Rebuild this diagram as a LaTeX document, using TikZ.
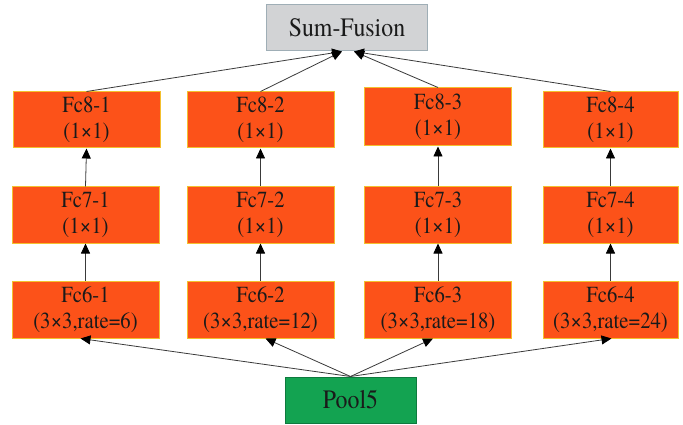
\documentclass[tikz,border=0pt]{standalone}
\usepackage{fontspec}
\newfontfamily\labelfont[FakeStretch=0.9]{texgyretermes-regular.otf}
\usetikzlibrary{arrows.meta}
\definecolor{layerfill}{HTML}{FC5219}
\definecolor{layerline}{HTML}{F3C02E}
\definecolor{sumfill}{HTML}{D2D3D5}
\definecolor{sumline}{HTML}{9FAEB6}
\definecolor{poolfill}{HTML}{13A351}
\definecolor{poolline}{HTML}{0E7A3E}
\definecolor{wire}{HTML}{3A3A3A}
\definecolor{ink}{HTML}{1A1A1A}
\tikzset{
  layer/.style={draw=layerline, fill=layerfill, line width=1pt, minimum height=56pt,
    minimum width=147pt, inner sep=0pt, align=center, text=ink,
    font=\labelfont\fontsize{23pt}{26pt}\selectfont},
  sumbox/.style={draw=sumline, fill=sumfill, line width=1pt, minimum width=161pt,
    minimum height=46pt, inner sep=0pt, text=ink,
    font=\labelfont\fontsize{26.5pt}{30pt}\selectfont},
  poolbox/.style={draw=poolline, fill=poolfill, line width=1pt, minimum width=131pt,
    minimum height=46pt, inner sep=0pt, text=ink,
    font=\labelfont\fontsize{26.5pt}{30pt}\selectfont},
  link/.style={draw=wire, line width=0.8pt,
    -{Triangle[length=10pt,width=9pt,fill=black,color=black]}}
}
\begin{document}
\begin{tikzpicture}[x=1pt,y=-1pt]
  \useasboundingbox (0,0) rectangle (683,425);
  \clip (0,0) rectangle (683,425);

  % top fusion node
  \node[sumbox] (sf) at (347,28) {Sum-Fusion};

  % Fc8 row
  \node[layer] (f81) at (86.5,120) {Fc8-1\\(1×1)};
  \node[layer] (f82) at (260.5,120) {Fc8-2\\(1×1)};
  \node[layer, minimum height=58pt] (f83) at (438,117) {Fc8-3\\(1×1)};
  \node[layer, minimum width=135pt] (f84) at (610.5,120) {Fc8-4\\(1×1)};

  % Fc7 row
  \node[layer] (f71) at (85.5,215) {Fc7-1\\(1×1)};
  \node[layer] (f72) at (260.5,215) {Fc7-2\\(1×1)};
  \node[layer] (f73) at (438,215) {Fc7-3\\(1×1)};
  \node[layer, minimum width=135pt] (f74) at (610.5,215) {Fc7-4\\(1×1)};

  % Fc6 row
  \node[layer, minimum height=57pt] (f61) at (85.5,309.5) {Fc6-1\\(3×3,rate=6)};
  \node[layer, minimum height=57pt] (f62) at (260.5,309.5) {Fc6-2\\(3×3,rate=12)};
  \node[layer, minimum height=57pt] (f63) at (438,309.5) {Fc6-3\\(3×3,rate=18)};
  \node[layer, minimum height=57pt, minimum width=135pt] (f64) at (610.5,309.5) {Fc6-4\\(3×3,rate=24)};

  % input node
  \node[poolbox] (p5) at (350.5,400) {Pool5};

  % Pool5 feeds every Fc6 branch
  \draw[link] (p5.north) -- ([xshift=-5pt]f61.south);
  \draw[link] (p5.north) -- ([xshift=5pt]f62.south);
  \draw[link] (p5.north) -- ([xshift=-5pt]f63.south);
  \draw[link] (p5.north) -- ([xshift=1pt]f64.south);

  % vertical chains
  \foreach \i in {1,2,3,4}{
    \draw[link] (f6\i.north) -- (f7\i.south);
    \draw[link] (f7\i.north) -- (f8\i.south);
  }

  % branches summed at the top
  \draw[link] (f81.north) -- ([xshift=-5pt]sf.south);
  \draw[link] (f82.north) -- ([xshift=-5pt]sf.south);
  \draw[link] (f83.north) -- ([xshift=7pt]sf.south);
  \draw[link] (f84.north) -- ([xshift=7pt]sf.south);
\end{tikzpicture}
\end{document}
